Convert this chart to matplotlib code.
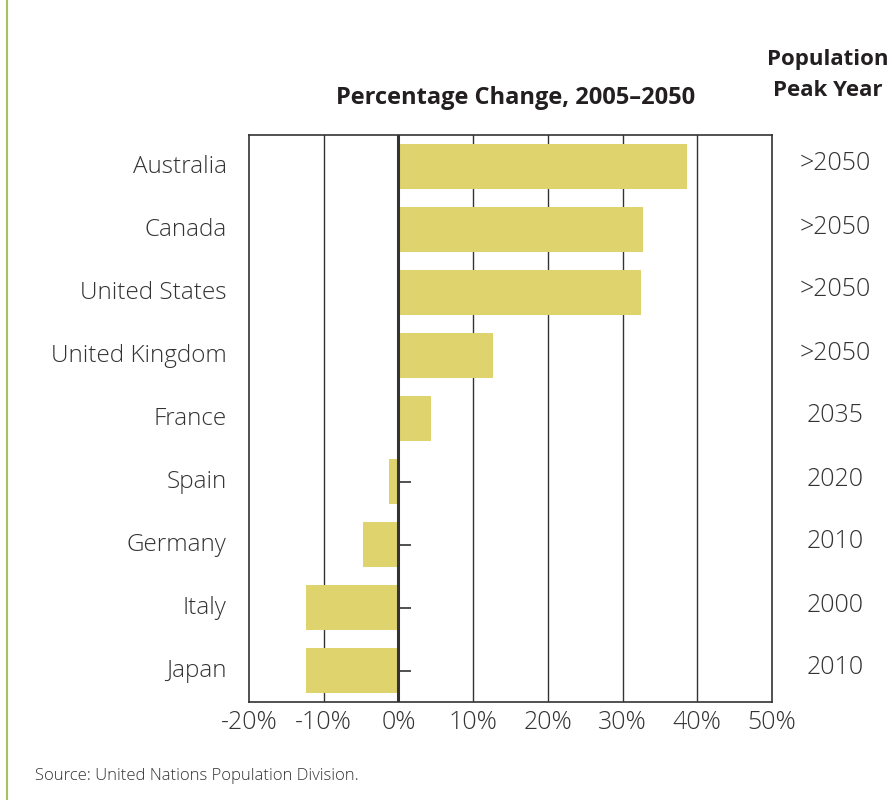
import matplotlib.pyplot as plt
from matplotlib.lines import Line2D
from matplotlib.transforms import ScaledTranslation

countries = ["Australia", "Canada", "United States", "United Kingdom", "France",
             "Spain", "Germany", "Italy", "Japan"]
change = [38.6, 32.8, 32.4, 12.6, 4.4, -1.2, -4.7, -12.4, -12.4]
peak_year = [">2050", ">2050", ">2050", ">2050", "2035", "2020", "2010", "2000", "2010"]
xticks = [-20, -10, 0, 10, 20, 30, 40, 50]

plt.rcParams['font.family'] = ['Open Sans', 'DejaVu Sans']

fig = plt.figure(figsize=(8.92, 8), dpi=100)
ax = fig.add_axes([249 / 892, 1 - 702 / 800, 523 / 892, 567 / 800])
up = ScaledTranslation(0, 0.025, fig.dpi_scale_trans)

ypos = list(range(len(countries)))
ax.barh(ypos, change, height=0.72, color="#dfd36e", zorder=3)
ax.hlines(ypos, 0, 1.7, color="#333333", lw=1.2, zorder=2)
for x in xticks[1:-1]:
    ax.axvline(x, color="#333333", lw=2.2 if x == 0 else 1.0, zorder=4 if x == 0 else 1)

ax.set_xlim(-20, 50)
ax.set_ylim(len(countries) - 0.5, -0.5)
ax.set_xticks(xticks)
ax.set_xticklabels([f"{x}%" for x in xticks], fontsize=18, color="#333333", fontweight="light")
ax.set_yticks(ypos)
ax.set_yticklabels(countries, fontsize=17.5, color="#333333", fontweight="light")
ax.tick_params(length=0, pad=6)
ax.tick_params(axis="y", pad=16)
for lbl in ax.get_yticklabels():
    lbl.set_transform(lbl.get_transform() + up)
for s in ax.spines.values():
    s.set_color("#333333")
    s.set_linewidth(1.2)

for y, p in zip(ypos, peak_year):
    ax.text(1.12, y, p, transform=ax.get_yaxis_transform() + up, ha="center", va="center",
            fontsize=18, color="#333333", fontweight="light")

fig.text(516 / 892, 1 - 98 / 800, "Percentage Change, 2005–2050", ha="center", va="center",
         fontsize=17, fontweight="bold", color="#231f20")
fig.text(828 / 892, 1 - 60 / 800, "Population", ha="center", va="center",
         fontsize=16, fontweight="bold", color="#231f20")
fig.text(828 / 892, 1 - 91 / 800, "Peak Year", ha="center", va="center",
         fontsize=16, fontweight="bold", color="#231f20")
fig.text(35 / 892, 1 - 776 / 800, "Source: United Nations Population Division.",
         ha="left", va="center", fontsize=12, color="#333333", fontweight="light")

fig.add_artist(Line2D([7 / 892, 7 / 892], [0, 1], color="#a8c060", lw=1.5))

fig.savefig("out.png", dpi=100)
